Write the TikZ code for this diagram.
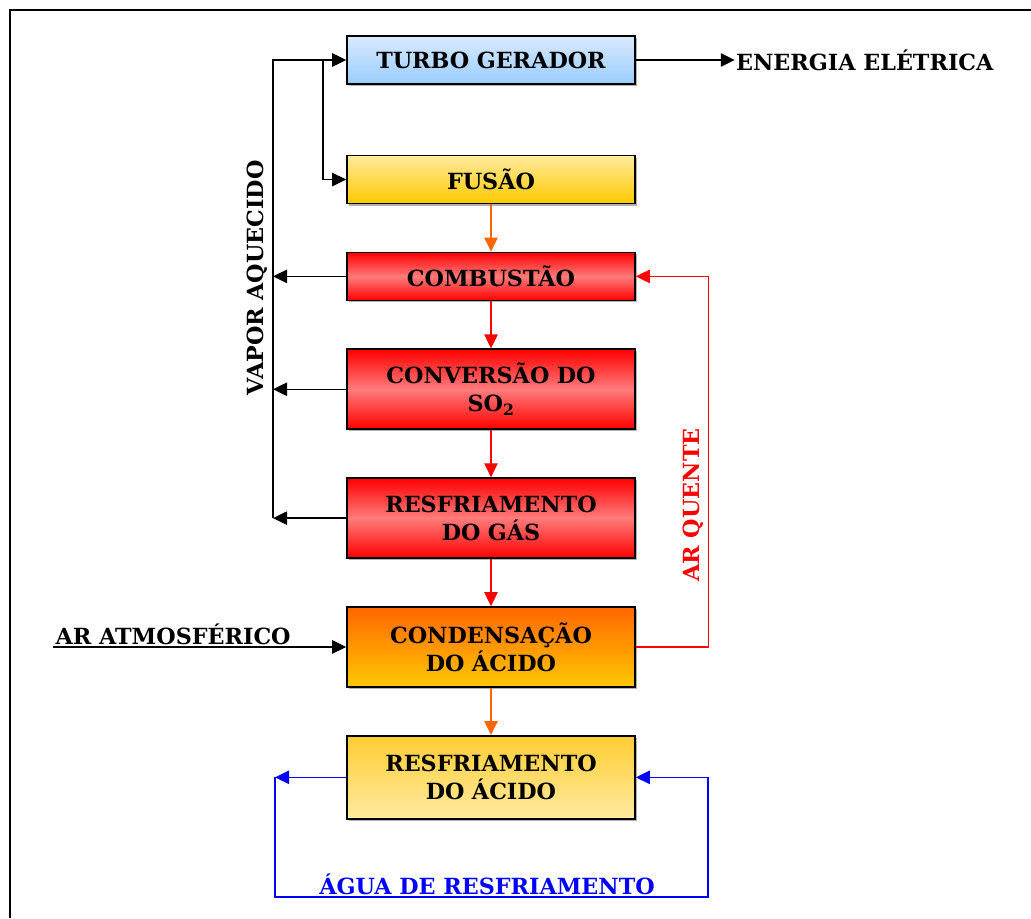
\documentclass[tikz,border=0pt]{standalone}
\usepackage{fontspec}
\setmainfont{DejaVu Serif}
\usepackage{tikz}
\usetikzlibrary{arrows.meta}
\usetikzlibrary{matrix}
\usetikzlibrary{shadows}
\definecolor{skyhi}{RGB}{217, 234, 254}
\definecolor{skylo}{RGB}{153, 204, 255}
\definecolor{goldhi}{RGB}{255, 235, 156}
\definecolor{goldlo}{RGB}{255, 200, 0}
\definecolor{gaslo}{RGB}{255, 123, 123}
\definecolor{hotorange}{RGB}{255, 102, 0}
\definecolor{acidhi}{RGB}{255, 204, 51}
\definecolor{acidlo}{RGB}{255, 235, 159}
\definecolor{water}{RGB}{0, 0, 255}
\definecolor{hotair}{RGB}{255, 0, 0}

\begin{document}
\begin{tikzpicture}[x=0.03cm,y=-0.03cm,
  font=\bfseries\fontsize{19}{24}\selectfont,
  >={Triangle[length=0.42cm,width=0.4cm]},
  box/.style={draw,line width=1.3pt,text width=8.64cm,align=center,inner sep=0pt,
    minimum height=1.44cm,
    drop shadow={shadow xshift=0.06cm,shadow yshift=-0.06cm,opacity=0.5,fill=black!60}},
  tall/.style={minimum height=2.4cm},
  turbo/.style={box,top color=skyhi,bottom color=skylo},
  fusao/.style={box,top color=goldhi,bottom color=goldlo},
  gasbox/.style={box,top color=red,bottom color=red,middle color=gaslo},
  condbox/.style={box,tall,top color=hotorange,bottom color=goldlo},
  acidbox/.style={box,tall,minimum height=2.49cm,top color=acidhi,bottom color=acidlo},
  flow/.style={line width=1.2pt}]
  \useasboundingbox (0,0) rectangle (1031,918);
  \draw[line width=2.2pt] (10,918) -- (10,10) -- (1031,10);

  \matrix (m) [matrix of nodes,row sep=1.42cm,anchor=north,inner sep=0pt] at (491,35)
  {
    |[turbo]| TURBO GERADOR \\[0.68cm]
    |[fusao]| FUSÃO \\
    |[gasbox]| COMBUSTÃO \\
    |[gasbox,tall]| {CONVERSÃO DO\\SO\textsubscript{2}} \\
    |[gasbox,tall]| {RESFRIAMENTO\\DO GÁS} \\
    |[condbox]| {CONDENSAÇÃO\\DO ÁCIDO} \\
    |[acidbox]| {RESFRIAMENTO\\DO ÁCIDO} \\
  };

  \path[->,flow]
    (m-2-1) edge [hotorange] (m-3-1)
    (m-3-1) edge [red] (m-4-1)
    (m-4-1) edge [red] (m-5-1)
    (m-5-1) edge [red] (m-6-1)
    (m-6-1) edge [hotorange] (m-7-1);

  % vapor aquecido
  \coordinate (vbar) at (273,0);
  \coordinate (vsplit) at (323,0);
  \draw[->,flow] (m-5-1.west -| vbar) -- (m-1-1.west -| vbar) -- (m-1-1.west);
  \draw[->,flow] (m-1-1.west -| vsplit) |- (m-2-1.west);
  \path[->,flow]
    (m-3-1.west) edge (m-3-1.west -| vbar)
    (m-4-1.west) edge (m-4-1.west -| vbar)
    (m-5-1.west) edge (m-5-1.west -| vbar);
  \node[rotate=90] (vapor) at (257,278) {VAPOR AQUECIDO};

  \node[anchor=west,inner sep=1pt] (energia) at ([xshift=2.97cm]m-1-1.east) {ENERGIA ELÉTRICA};
  \draw[->,flow] (m-1-1.east) -- (energia.west);

  % ar quente
  \draw[->,flow,hotair] (m-6-1.east) -- ++(73,0) |- (m-3-1.east);
  \node[rotate=90,text=hotair] (arquente) at (693,505) {AR QUENTE};

  \coordinate (atm) at (m-6-1.west -| 53,0);
  \node[anchor=south west,inner sep=2pt] (artext) at (atm) {AR ATMOSFÉRICO};
  \draw[->,flow] (atm) -- (m-6-1.west);

  % agua de resfriamento
  \coordinate (wl) at (275,0);
  \coordinate (wr) at (708,897);
  \draw[->,flow,water] (m-7-1.west) -- (m-7-1.west -| wl);
  \draw[->,flow,water] (m-7-1.west -| wl) |- (wr) |- (m-7-1.east);
  \node[text=water] (agua) at (487,884) {ÁGUA DE RESFRIAMENTO};
\end{tikzpicture}
\end{document}
